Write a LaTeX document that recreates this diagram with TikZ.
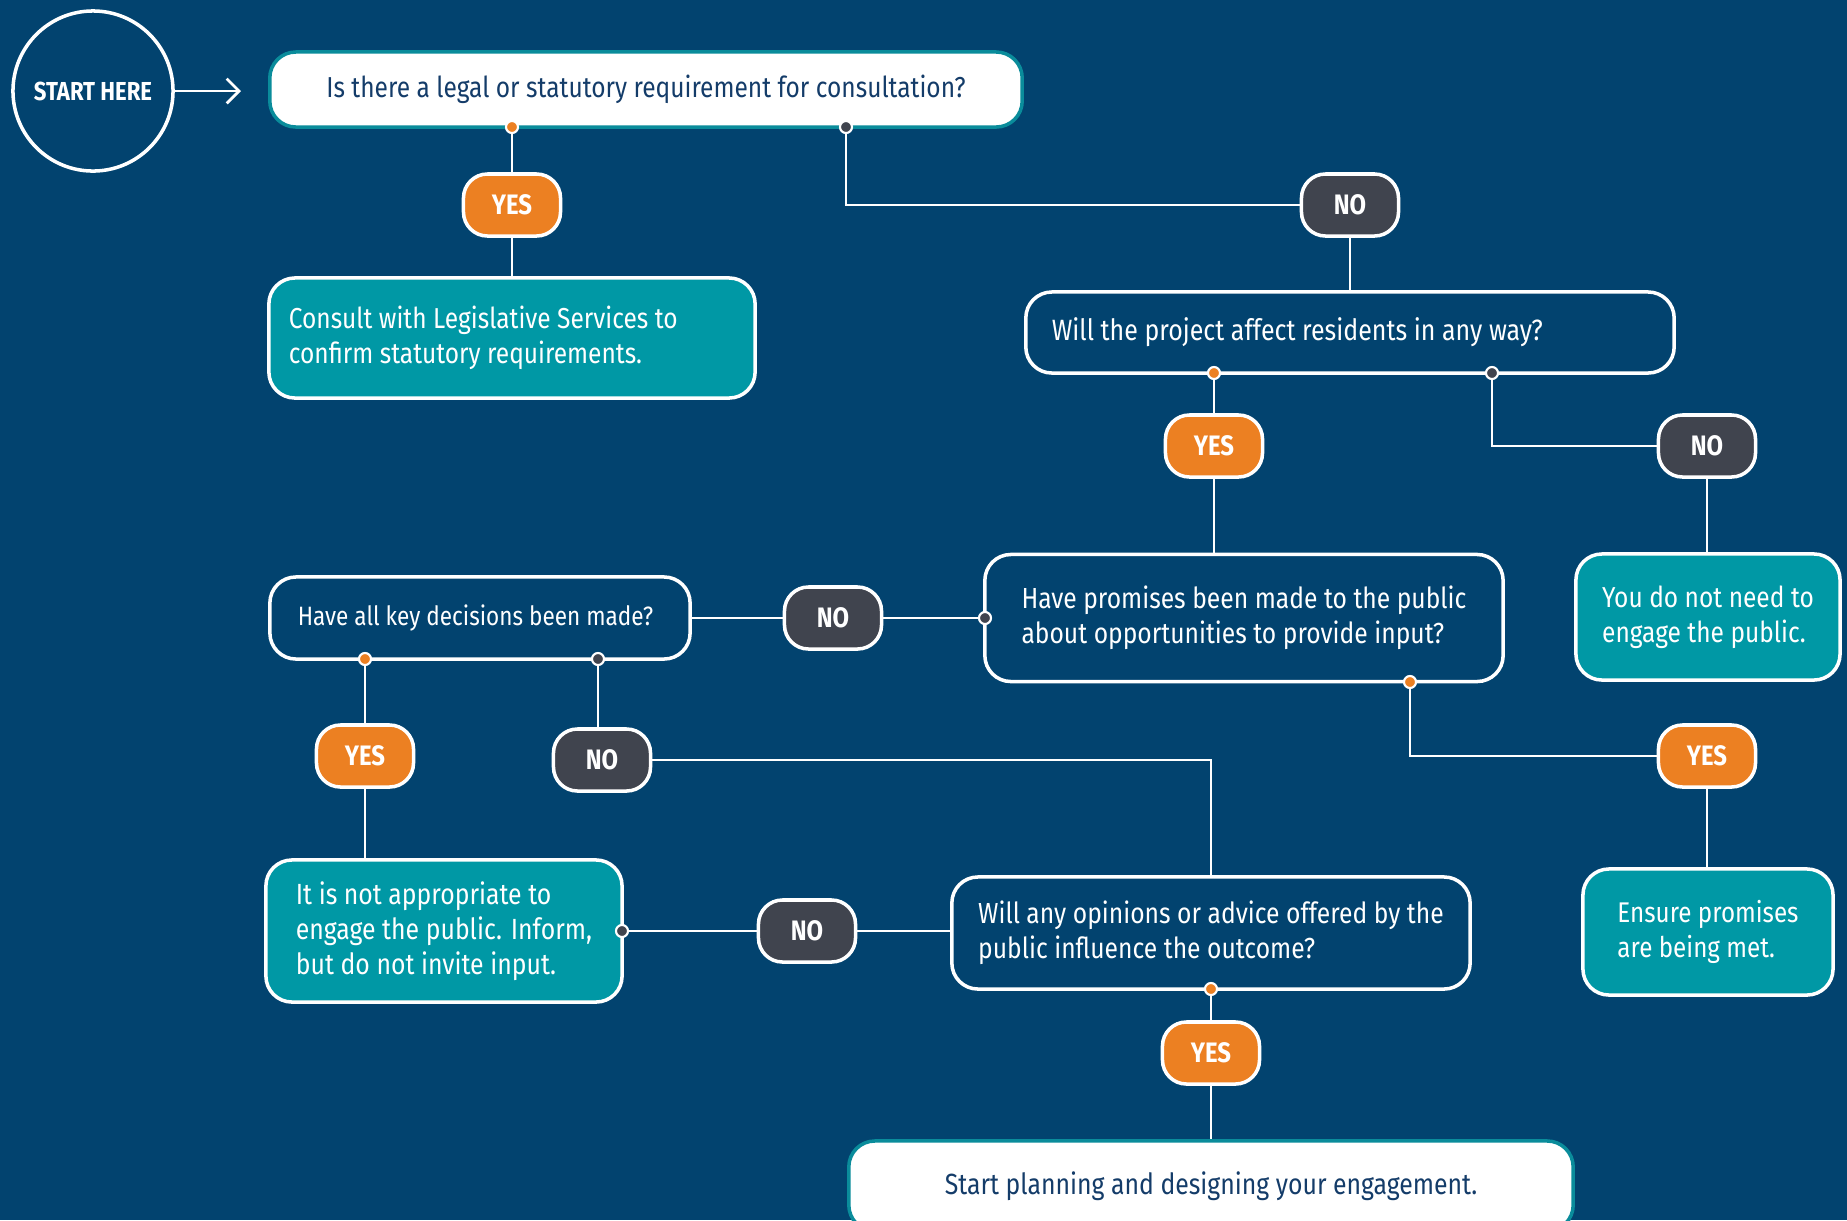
\documentclass[tikz,border=0pt]{standalone}
\usepackage{fontspec}
\setmainfont{Fira Sans}[FakeStretch=0.85]
\usetikzlibrary{arrows.meta}
\usetikzlibrary{shapes}

\definecolor{bgblue}{RGB}{2,67,111}
\definecolor{tealbox}{RGB}{0,152,165}
\definecolor{tealline}{RGB}{10,140,155}
\definecolor{orangepill}{RGB}{236,128,34}
\definecolor{darkpill}{RGB}{64,68,78}
\definecolor{navytext}{RGB}{20,60,105}

\newcommand{\qsize}[1]{\fontsize{#1}{10}\selectfont}

\tikzset{
  wire/.style={draw=white, line width=0.8pt},
  qbox/.style={draw=white, line width=1pt, rounded corners=0.26cm, text=white, align=left},
  ansbox/.style={qbox, fill=tealbox},
  whitebox/.style={draw=tealline, fill=white, line width=1pt, rounded corners=0.26cm, text=navytext, align=center},
  pill/.style={draw=white, line width=1pt, rounded corners=0.24cm, text=white, font=\bfseries\fontsize{8}{9}\selectfont, minimum width=0.97cm, minimum height=0.62cm, inner sep=0},
  yespill/.style={pill, fill=orangepill},
  nopill/.style={pill, fill=darkpill},
  odot/.style={circle, draw=white, line width=0.6pt, fill=orangepill, minimum size=0.12cm, inner sep=0},
  ddot/.style={odot, fill=darkpill}
}

\begin{document}
\begin{tikzpicture}[x=0.01cm, y=-0.01cm]
  \useasboundingbox (0,0) rectangle (1847,1220);
  \clip (0,0) rectangle (1847,1220);
  \fill[bgblue] (0,0) rectangle (1847,1220);

  \node[circle, draw=white, line width=1pt, minimum size=1.6cm, text=white, font=\bfseries\fontsize{7.4}{8}\selectfont] at (93,91) (start){START HERE};
  \coordinate (arr) at (241,91);

  \node[whitebox, minimum width=7.52cm, minimum height=0.75cm, font=\qsize{8.2}] at (646,89.5) (q1){Is there a legal or statutory requirement for consultation?};
  \node[ansbox, align=flush left, inner xsep=0.2cm, text width=4.46cm, minimum height=1.2cm, font=\qsize{8.2}] at (512,338) (consult){Consult with Legislative Services to\\confirm statutory requirements.};
  \node[qbox, align=flush left, inner xsep=0.26cm, text width=5.96cm, minimum height=0.81cm, font=\qsize{8.35}] at (1350,332.5) (q2){Will the project affect residents in any way?};
  \node[ansbox, minimum width=2.64cm, minimum height=1.26cm, font=\qsize{8.2}] at (1708,617) (noneed){You do not need to\\engage the public.};
  \node[qbox, minimum width=5.18cm, minimum height=1.27cm, font=\qsize{8.25}] at (1244,618) (q3){Have promises been made to the public\\about opportunities to provide input?};
  \node[qbox, align=flush left, inner xsep=0.28cm, text width=3.64cm, minimum height=0.82cm, font=\qsize{7.55}] at (480,618) (q4){Have all key decisions been made?};
  \node[ansbox, minimum width=2.5cm, minimum height=1.26cm, font=\qsize{8.1}] at (1708,932) (ensure){Ensure promises\\are being met.};
  \node[ansbox, minimum width=3.56cm, minimum height=1.42cm, font=\qsize{8.3}] at (444,931) (inform){It is not appropriate to\\engage the public. Inform,\\but do not invite input.};
  \node[qbox, minimum width=5.18cm, minimum height=1.12cm, font=\qsize{8.25}] at (1211,933) (q5){Will any opinions or advice offered by the\\public influence the outcome?};
  \node[whitebox, minimum width=7.24cm, minimum height=0.9cm, font=\qsize{8.3}] at (1211,1186) (plan){Start planning and designing your engagement.};

  \node[odot] at (512,127) (q1yes){};
  \node[ddot] at (846,127) (q1no){};
  \node[odot] at (1214,373) (q2yes){};
  \node[ddot] at (1492,373) (q2no){};
  \node[ddot] at (985,618) (q3no){};
  \node[odot] at (1410,682) (q3yes){};
  \node[odot] at (365,659) (q4yes){};
  \node[ddot] at (598,659) (q4no){};
  \node[ddot] at (622,931) (informno){};
  \node[odot] at (1211,989) (q5yes){};

  \node[yespill] at (512,205) (yes1){YES};
  \node[nopill] at (1350,205) (no1){NO};
  \node[yespill] at (1214,446) (yes2){YES};
  \node[nopill] at (1707,446) (no2){NO};
  \node[nopill] at (833,618) (no3){NO};
  \node[yespill] at (1707,756) (yes3){YES};
  \node[yespill] at (365,756) (yes4){YES};
  \node[nopill] at (602,760) (no4){NO};
  \node[nopill] at (807,931) (no5){NO};
  \node[yespill] at (1211,1053) (yes5){YES};

  \draw[wire, -{Straight Barb[length=3.5pt, width=7pt]}] (start) -- (arr);
  \draw[wire] (q1yes) -- (yes1) -- (consult);
  \draw[wire] (q1no) |- (no1);
  \draw[wire] (no1) -- (q2);
  \draw[wire] (q2yes) -- (yes2) -- (q3.north -| yes2);
  \draw[wire] (q2no) |- (no2);
  \draw[wire] (no2) -- (noneed.north -| no2);
  \draw[wire] (q3no) -- (no3) -- (q4);
  \draw[wire] (q3yes) |- (yes3);
  \draw[wire] (yes3) -- (ensure.north -| yes3);
  \draw[wire] (q4yes) -- (yes4) -- (inform.north -| yes4);
  \draw[wire] (q4no) -- (q4no |- no4.north);
  \draw[wire] (no4) -| (q5);
  \draw[wire] (informno) -- (no5) -- (q5.west |- informno);
  \draw[wire] (q5yes) -- (yes5) -- (plan);
\end{tikzpicture}
\end{document}
